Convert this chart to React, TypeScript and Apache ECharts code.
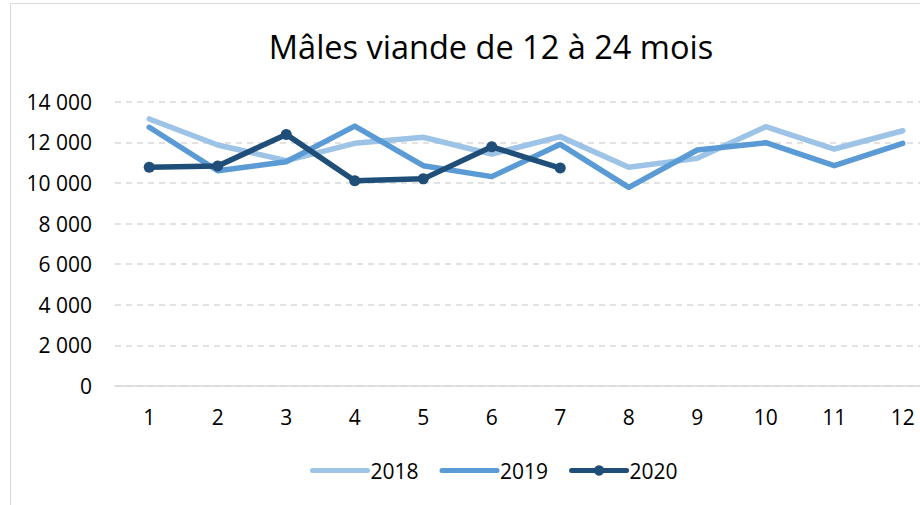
import React, { useEffect, useRef } from "react";
import * as echarts from "echarts";

const months = ["1", "2", "3", "4", "5", "6", "7", "8", "9", "10", "11", "12"];
const data2018 = [13150, 11870, 11100, 11950, 12250, 11420, 12280, 10770, 11210, 12770, 11670, 12570];
const data2019 = [12740, 10600, 11040, 12800, 10850, 10310, 11900, 9780, 11620, 11980, 10850, 11950];
const data2020 = [10770, 10830, 12390, 10110, 10200, 11780, 10730];
const titleText = "Mâles viande de 12 à 24 mois";

const FONT = "'Open Sans', 'Noto Sans', sans-serif";

export default function App() {
  const ref = useRef<HTMLDivElement>(null);
  useEffect(() => {
    document.body.style.margin = "0";
    const chart = echarts.init(ref.current!, null, { renderer: "svg" });
    const fmt = (v: number) => String(v).replace(/\B(?=(\d{3})+(?!\d))/g, " ");
    chart.setOption({
      animation: false,
      backgroundColor: "#ffffff",
      textStyle: { fontFamily: FONT },
      graphic: [
        {
          type: "rect",
          shape: { x: 10.5, y: 3.5, width: 1000, height: 1000 },
          style: { fill: "none", stroke: "#d9d9d9", lineWidth: 1 },
          silent: true,
        },
      ],
      title: {
        text: titleText,
        left: 486,
        textAlign: "center",
        top: 25,
        textStyle: { fontFamily: FONT, fontSize: 32.5, fontWeight: "normal", color: "#000000" },
      },
      legend: {
        bottom: 24,
        left: 310,
        padding: 0,
        itemWidth: 55,
        itemHeight: 13,
        itemGap: 21,
        lineStyle: { width: 5, cap: "round" },
        textStyle: { fontFamily: FONT, fontSize: 21, color: "#000000", padding: [0, 0, 0, -2] },
        data: [
          { name: "2018", itemStyle: { opacity: 0 } },
          { name: "2019", itemStyle: { opacity: 0 } },
          { name: "2020" },
        ],
      },
      grid: {
        left: 115,
        top: 101.7,
        width: 822,
        height: 284.3,
        containLabel: false,
        outerBoundsMode: "none",
      },
      xAxis: {
        type: "category",
        data: months,
        boundaryGap: true,
        axisLine: { show: true, lineStyle: { color: "#d9d9d9", width: 1.5 } },
        axisTick: { show: false },
        axisLabel: { fontFamily: FONT, fontSize: 21, color: "#000000", margin: 20 },
      },
      yAxis: {
        type: "value",
        min: 0,
        max: 14000,
        interval: 2000,
        axisLine: { show: false },
        axisTick: { show: false },
        splitLine: { lineStyle: { color: "#d9d9d9", type: [6, 5], width: 1.5 } },
        axisLabel: { fontFamily: FONT, fontSize: 21, color: "#000000", margin: 23, formatter: fmt },
      },
      series: [
        {
          name: "2018",
          type: "line",
          data: data2018,
          symbol: "none",
          lineStyle: { color: "#9dc3e6", width: 5.5, cap: "round", join: "round" },
          itemStyle: { color: "#9dc3e6" },
        },
        {
          name: "2019",
          type: "line",
          data: data2019,
          symbol: "none",
          lineStyle: { color: "#5b9bd5", width: 5.5, cap: "round", join: "round" },
          itemStyle: { color: "#5b9bd5" },
        },
        {
          name: "2020",
          type: "line",
          data: data2020,
          symbol: "circle",
          symbolSize: 11,
          lineStyle: { color: "#1f4e79", width: 5.5, cap: "round", join: "round" },
          itemStyle: { color: "#1f4e79" },
        },
      ],
    });
    return () => chart.dispose();
  }, []);
  return <div ref={ref} style={{ width: 920, height: 505 }} />;
}
